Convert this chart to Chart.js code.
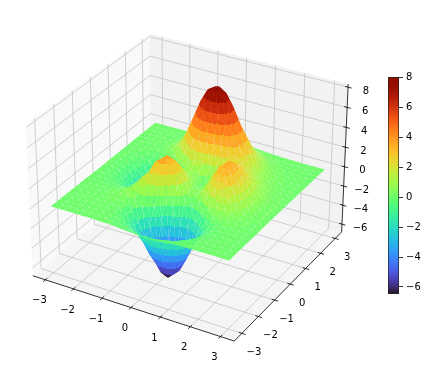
<!DOCTYPE html>
<html>
<head>
<meta charset="utf-8">
<script src="https://cdn.jsdelivr.net/npm/chart.js@4/dist/chart.umd.js"></script>
<style>
    html, body { margin: 0; background: #fff; }
    #surface { position: absolute; left: 0; top: 0; }
    #colorbar { position: absolute; left: 380px; top: 60px; }
</style>
</head>
<body>
<canvas id="surface" width="426" height="371"></canvas>
<canvas id="colorbar" width="46" height="250"></canvas>
<script>
// grid of the surface
const xVals = [-3, -2.75, -2.5, -2.25, -2, -1.75, -1.5, -1.25, -1, -0.75, -0.5, -0.25, 0, 0.25, 0.5, 0.75, 1, 1.25, 1.5, 1.75, 2, 2.25, 2.5, 2.75, 3];
const yVals = [-3, -2.75, -2.5, -2.25, -2, -1.75, -1.5, -1.25, -1, -0.75, -0.5, -0.25, 0, 0.25, 0.5, 0.75, 1, 1.25, 1.5, 1.75, 2, 2.25, 2.5, 2.75, 3];
// one row per y value
const zRows = [
    [0, 0, 0, 0, 0, 0.01, 0, -0.01, -0.03, -0.08, -0.14, -0.2, -0.25, -0.25, -0.22, -0.17, -0.11, -0.06, -0.03, -0.01, -0.01, 0, 0, 0, 0],
    [0, 0, 0, 0, 0.01, 0.01, 0, -0.02, -0.1, -0.22, -0.39, -0.56, -0.68, -0.69, -0.61, -0.46, -0.3, -0.17, -0.08, -0.03, -0.01, 0, 0, 0, 0],
    [0, 0, 0, 0.01, 0.01, 0.02, 0, -0.07, -0.23, -0.53, -0.92, -1.31, -1.57, -1.6, -1.41, -1.06, -0.69, -0.38, -0.19, -0.08, -0.03, -0.01, 0, 0, 0],
    [0, 0, 0.01, 0.01, 0.03, 0.04, 0.01, -0.12, -0.44, -1, -1.74, -2.51, -3.02, -3.1, -2.72, -2.05, -1.32, -0.74, -0.35, -0.14, -0.05, -0.01, 0, 0, 0],
    [0, 0, 0.01, 0.02, 0.05, 0.07, 0.05, -0.13, -0.59, -1.45, -2.64, -3.88, -4.76, -4.93, -4.35, -3.27, -2.1, -1.15, -0.53, -0.2, -0.06, -0.01, 0, 0, 0],
    [0, 0, 0.01, 0.03, 0.07, 0.13, 0.15, 0.02, -0.46, -1.48, -3.01, -4.7, -5.98, -6.33, -5.64, -4.24, -2.69, -1.42, -0.61, -0.2, -0.05, 0, 0.01, 0, 0],
    [0, 0, 0.01, 0.03, 0.08, 0.19, 0.33, 0.39, 0.15, -0.68, -2.19, -4.08, -5.68, -6.33, -5.76, -4.32, -2.64, -1.27, -0.44, -0.07, 0.04, 0.05, 0.03, 0.01, 0],
    [0, -0.01, -0.01, -0.01, 0.03, 0.17, 0.45, 0.84, 1.11, 0.88, -0.14, -1.84, -3.6, -4.6, -4.4, -3.22, -1.74, -0.56, 0.08, 0.27, 0.23, 0.13, 0.06, 0.02, 0.01],
    [-0.01, -0.03, -0.06, -0.1, -0.13, -0.04, 0.3, 0.98, 1.86, 2.45, 2.23, 1, -0.72, -2.02, -2.22, -1.43, -0.27, 0.58, 0.88, 0.77, 0.5, 0.26, 0.11, 0.04, 0.01],
    [-0.02, -0.05, -0.12, -0.26, -0.42, -0.51, -0.28, 0.49, 1.78, 3.09, 3.63, 2.94, 1.4, -0.01, -0.41, 0.2, 1.18, 1.79, 1.78, 1.35, 0.82, 0.41, 0.18, 0.07, 0.02],
    [-0.02, -0.08, -0.2, -0.44, -0.8, -1.16, -1.21, -0.6, 0.8, 2.49, 3.55, 3.31, 2, 0.7, 0.39, 1.14, 2.2, 2.76, 2.56, 1.88, 1.12, 0.56, 0.24, 0.09, 0.03],
    [-0.03, -0.1, -0.27, -0.6, -1.14, -1.78, -2.16, -1.84, -0.56, 1.23, 2.56, 2.63, 1.58, 0.53, 0.48, 1.5, 2.76, 3.37, 3.09, 2.25, 1.34, 0.67, 0.28, 0.1, 0.03],
    [-0.04, -0.11, -0.3, -0.69, -1.33, -2.14, -2.77, -2.71, -1.65, 0.06, 1.48, 1.75, 0.98, 0.19, 0.38, 1.57, 2.94, 3.58, 3.27, 2.37, 1.41, 0.7, 0.3, 0.11, 0.03],
    [-0.04, -0.11, -0.29, -0.67, -1.32, -2.16, -2.87, -2.98, -2.15, -0.65, 0.68, 1.06, 0.52, -0.03, 0.28, 1.47, 2.76, 3.36, 3.06, 2.22, 1.32, 0.66, 0.28, 0.1, 0.03],
    [-0.03, -0.09, -0.25, -0.57, -1.12, -1.85, -2.49, -2.64, -2, -0.76, 0.39, 0.8, 0.46, 0.09, 0.38, 1.34, 2.38, 2.83, 2.56, 1.85, 1.09, 0.54, 0.23, 0.08, 0.03],
    [-0.02, -0.07, -0.18, -0.42, -0.82, -1.33, -1.76, -1.78, -1.16, -0.05, 1.04, 1.55, 1.42, 1.12, 1.17, 1.65, 2.17, 2.32, 1.99, 1.4, 0.82, 0.4, 0.17, 0.06, 0.02],
    [-0.01, -0.04, -0.11, -0.25, -0.48, -0.74, -0.86, -0.6, 0.23, 1.51, 2.79, 3.59, 3.69, 3.34, 2.94, 2.66, 2.44, 2.09, 1.58, 1.04, 0.58, 0.28, 0.11, 0.04, 0.01],
    [-0.01, -0.02, -0.06, -0.12, -0.2, -0.23, -0.05, 0.55, 1.69, 3.29, 4.92, 6.06, 6.39, 5.94, 5.02, 3.97, 2.97, 2.09, 1.35, 0.79, 0.41, 0.19, 0.07, 0.03, 0.01],
    [0, -0.01, -0.02, -0.03, -0.01, 0.11, 0.48, 1.28, 2.61, 4.38, 6.2, 7.54, 8, 7.48, 6.25, 4.72, 3.26, 2.05, 1.19, 0.62, 0.29, 0.12, 0.05, 0.02, 0],
    [0, 0, 0, 0.01, 0.07, 0.24, 0.65, 1.43, 2.67, 4.29, 5.96, 7.22, 7.68, 7.2, 5.99, 4.45, 2.96, 1.78, 0.96, 0.47, 0.21, 0.08, 0.03, 0.01, 0],
    [0, 0, 0.01, 0.02, 0.08, 0.23, 0.55, 1.16, 2.1, 3.31, 4.56, 5.51, 5.86, 5.5, 4.57, 3.37, 2.21, 1.29, 0.68, 0.32, 0.13, 0.05, 0.02, 0.01, 0],
    [0, 0, 0.01, 0.02, 0.06, 0.15, 0.36, 0.74, 1.32, 2.07, 2.84, 3.43, 3.65, 3.43, 2.84, 2.09, 1.36, 0.79, 0.41, 0.19, 0.08, 0.03, 0.01, 0, 0],
    [0, 0, 0, 0.01, 0.03, 0.08, 0.19, 0.39, 0.69, 1.07, 1.47, 1.77, 1.88, 1.77, 1.47, 1.08, 0.7, 0.4, 0.21, 0.09, 0.04, 0.01, 0, 0, 0],
    [0, 0, 0, 0, 0.01, 0.04, 0.08, 0.17, 0.3, 0.47, 0.64, 0.77, 0.82, 0.77, 0.64, 0.47, 0.3, 0.17, 0.09, 0.04, 0.02, 0.01, 0, 0, 0],
    [0, 0, 0, 0, 0.01, 0.01, 0.03, 0.06, 0.11, 0.17, 0.23, 0.28, 0.3, 0.28, 0.23, 0.17, 0.11, 0.06, 0.03, 0.01, 0.01, 0, 0, 0, 0]
];

const xyTicks = [-3, -2, -1, 0, 1, 2, 3];
const zTicks = [-6, -4, -2, 0, 2, 4, 6, 8];
const barTicks = [-6, -4, -2, 0, 2, 4, 6, 8];
const zMin = -6.47;
const zMax = 8.05;

// limits of the 3d box
const L = 3.45;
const zLo = -6.82;
const zHi = 8.31;

// value range of the full-canvas scales
const xScaleMin = -190 / 2020, xScaleMax = 236 / 2020;
const yScaleMin = -190.8 / 2015, yScaleMax = 180.2 / 2015;
const canvasW = 426, canvasH = 371;

// view: elev 30, azim -60, same camera maths as mplot3d
const dist = 10;
const boxX = 0.5714, boxZ = 0.4286;
const uVec = [0.866, 0.5, 0];
const vVec = [-0.25, 0.433, 0.866];
const wVec = [0.433, -0.75, 0.5];

function boxCoords(x, y, z) {
    return [x / L * boxX, y / L * boxX, (z - (zLo + zHi) / 2) / ((zHi - zLo) / 2) * boxZ];
}
function dot(a, b) {
    return a[0] * b[0] + a[1] * b[1] + a[2] * b[2];
}
function project(x, y, z) {
    const d = boxCoords(x, y, z);
    const depth = dist - dot(wVec, d);
    return { x: dot(uVec, d) / depth, y: dot(vVec, d) / depth };
}
function depthOf(x, y, z) {
    return dot(wVec, boxCoords(x, y, z));
}
function toPixel(p) {
    const q = project(p[0], p[1], p[2]);
    return {
        x: (q.x - xScaleMin) / (xScaleMax - xScaleMin) * canvasW,
        y: (yScaleMax - q.y) / (yScaleMax - yScaleMin) * canvasH
    };
}

// google turbo polynomial, same look as matplotlib's turbo
function turbo(t) {
    t = Math.min(1, Math.max(0, t));
    const t2 = t * t, t3 = t2 * t, t4 = t3 * t, t5 = t4 * t;
    const r = 0.13572138 + 4.6153926 * t - 42.66032258 * t2 + 132.13108234 * t3 - 152.94239396 * t4 + 59.28637943 * t5;
    const g = 0.09140261 + 2.19418839 * t + 4.84296658 * t2 - 14.18503333 * t3 + 4.27729857 * t4 + 2.82956604 * t5;
    const b = 0.1066733 + 12.64194608 * t - 60.58204836 * t2 + 110.36276771 * t3 - 89.90310912 * t4 + 27.34824973 * t5;
    const c = v => Math.round(255 * Math.min(1, Math.max(0, v)));
    return `rgb(${c(r)},${c(g)},${c(b)})`;
}
function zColor(z) {
    return turbo((z - zMin) / (zMax - zMin));
}

const surfaceCtx = document.querySelector('#surface').getContext('2d');

// fill for one triangle: colour follows the height across it,
// in wider steps where the surface is steep (the rows of the fine mesh show there)
function triangleFill(tri) {
    const zs = tri.map(p => p[2]);
    const lo = Math.min(...zs), hi = Math.max(...zs);
    const range = hi - lo;
    const step = range > 1.2 ? 0.9 : range > 0.6 ? 0.45 : 0.15;
    const kLo = Math.round(lo / step), kHi = Math.round(hi / step);
    if (kLo === kHi) return zColor((lo + hi) / 2);

    const [a, b, c] = tri.map(toPixel);
    const det = (b.x - a.x) * (c.y - a.y) - (c.x - a.x) * (b.y - a.y);
    if (Math.abs(det) < 0.01) return zColor((lo + hi) / 2);
    const gx = ((zs[1] - zs[0]) * (c.y - a.y) - (zs[2] - zs[0]) * (b.y - a.y)) / det;
    const gy = ((b.x - a.x) * (zs[2] - zs[0]) - (c.x - a.x) * (zs[1] - zs[0])) / det;
    const g2 = gx * gx + gy * gy;

    const low = toPixel(tri[zs.indexOf(lo)]);
    const span = range / g2;
    const grad = surfaceCtx.createLinearGradient(low.x, low.y, low.x + gx * span, low.y + gy * span);
    grad.addColorStop(0, zColor(kLo * step));
    for (let k = kLo; k < kHi; k++) {
        const at = ((k + 0.5) * step - lo) / range;
        grad.addColorStop(at, zColor(k * step));
        grad.addColorStop(at, zColor((k + 1) * step));
    }
    grad.addColorStop(1, zColor(kHi * step));
    return grad;
}

function lineSet(points, color, width) {
    return {
        data: points.map(p => project(p[0], p[1], p[2])),
        showLine: true,
        borderColor: color,
        borderWidth: width,
        pointRadius: 0,
        fill: false
    };
}
function polySet(points, color) {
    return {
        data: points.map(p => project(p[0], p[1], p[2])),
        showLine: true,
        borderColor: 'transparent',
        borderWidth: 0,
        backgroundColor: color,
        pointBackgroundColor: 'transparent',
        pointRadius: 0,
        fill: 'shape'
    };
}

// things are listed back to front, reversed before handing to chart.js
const layers = [];

// panes
layers.push(polySet([[-L, -L, zLo], [-L, L, zLo], [-L, L, zHi], [-L, -L, zHi]], '#f9f9f9'));
layers.push(polySet([[-L, L, zLo], [L, L, zLo], [L, L, zHi], [-L, L, zHi]], '#f2f2f2'));
layers.push(polySet([[-L, -L, zLo], [L, -L, zLo], [L, L, zLo], [-L, L, zLo]], '#f5f5f5'));

// grid lines
xyTicks.forEach(t => {
    layers.push(lineSet([[t, -L, zLo], [t, L, zLo], [t, L, zHi]], '#c4c4c4', 0.8));
    layers.push(lineSet([[L, t, zLo], [-L, t, zLo], [-L, t, zHi]], '#c4c4c4', 0.8));
});
zTicks.forEach(t => {
    layers.push(lineSet([[L, L, t], [-L, L, t], [-L, -L, t]], '#c4c4c4', 0.8));
});

// axis lines and tick marks
layers.push(lineSet([[-L, -L, zLo], [L, -L, zLo]], '#000', 0.8));
layers.push(lineSet([[L, -L, zLo], [L, L, zLo]], '#000', 0.8));
layers.push(lineSet([[L, L, zLo], [L, L, zHi]], '#000', 0.8));
xyTicks.forEach(t => {
    layers.push(lineSet([[t, -L + 0.1, zLo], [t, -L - 0.12, zLo]], '#000', 0.8));
    layers.push(lineSet([[L - 0.1, t, zLo], [L + 0.12, t, zLo]], '#000', 0.8));
});
zTicks.forEach(t => {
    layers.push(lineSet([[L - 0.1, L, t], [L + 0.12, L, t]], '#000', 0.8));
});

// surface: two triangles per grid cell, sorted far to near
const tris = [];
for (let j = 0; j < yVals.length - 1; j++) {
    for (let i = 0; i < xVals.length - 1; i++) {
        const a = [xVals[i], yVals[j], zRows[j][i]];
        const b = [xVals[i + 1], yVals[j], zRows[j][i + 1]];
        const c = [xVals[i + 1], yVals[j + 1], zRows[j + 1][i + 1]];
        const d = [xVals[i], yVals[j + 1], zRows[j + 1][i]];
        tris.push([a, b, d], [b, c, d]);
    }
}
tris.map(t => ({
    t,
    depth: (depthOf(...t[0]) + depthOf(...t[1]) + depthOf(...t[2])) / 3
}))
    .sort((p, q) => p.depth - q.depth)
    .forEach(item => layers.push(polySet(item.t, triangleFill(item.t))));

// tick labels, placed next to the projected tick
const tickLabels = {
    id: 'tickLabels',
    afterDraw(chart) {
        const { ctx, scales } = chart;
        const put = (pos, dx, dy, value) => {
            const text = String(value).replace('-', '\u2212');
            ctx.fillText(text, scales.x.getPixelForValue(pos.x) + dx, scales.y.getPixelForValue(pos.y) + dy);
        };
        ctx.save();
        ctx.font = '10px "DejaVu Sans"';
        ctx.fillStyle = '#000';
        ctx.textAlign = 'center';
        ctx.textBaseline = 'middle';
        xyTicks.forEach(t => {
            put(project(t, -L, zLo), -6, 21, t);
            put(project(L, t, zLo), 12, 19, t);
        });
        zTicks.forEach(t => put(project(L, L, t), 18, 4, t));
        ctx.restore();
    }
};

new Chart(surfaceCtx, {
    type: 'scatter',
    data: { datasets: layers.reverse() },
    options: {
        responsive: false,
        animation: false,
        devicePixelRatio: 1,
        layout: { padding: 0 },
        plugins: { legend: { display: false }, tooltip: { enabled: false }, filler: { propagate: false } },
        scales: {
            x: { type: 'linear', display: false, min: xScaleMin, max: xScaleMax },
            y: { type: 'linear', display: false, min: yScaleMin, max: yScaleMax }
        }
    },
    plugins: [tickLabels]
});

// colorbar
new Chart(document.querySelector('#colorbar').getContext('2d'), {
    type: 'bar',
    data: {
        labels: [''],
        datasets: [{
            data: [[zMin, zMax]],
            barPercentage: 1,
            categoryPercentage: 1,
            borderColor: '#222',
            borderWidth: 1,
            borderSkipped: false,
            backgroundColor(context) {
                const area = context.chart.chartArea;
                if (!area) return '#888';
                const grad = context.chart.ctx.createLinearGradient(0, area.bottom, 0, area.top);
                for (let i = 0; i <= 32; i++) grad.addColorStop(i / 32, turbo(i / 32));
                return grad;
            }
        }]
    },
    options: {
        responsive: false,
        animation: false,
        devicePixelRatio: 1,
        layout: { padding: { left: 8, right: 0, top: 17, bottom: 16 } },
        plugins: { legend: { display: false }, tooltip: { enabled: false } },
        scales: {
            x: { display: false },
            y: {
                position: 'right',
                min: zMin,
                max: zMax,
                afterBuildTicks(scale) { scale.ticks = barTicks.map(v => ({ value: v })); },
                afterFit(scale) { scale.width = 27; },
                border: { display: false },
                grid: { drawOnChartArea: false, tickLength: 4, tickColor: '#000', tickWidth: 0.8 },
                ticks: {
                    color: '#000',
                    padding: 3,
                    font: { family: '"DejaVu Sans"', size: 10 },
                    callback: v => String(v).replace('-', '\u2212')
                }
            }
        }
    }
});
</script>
</body>
</html>
